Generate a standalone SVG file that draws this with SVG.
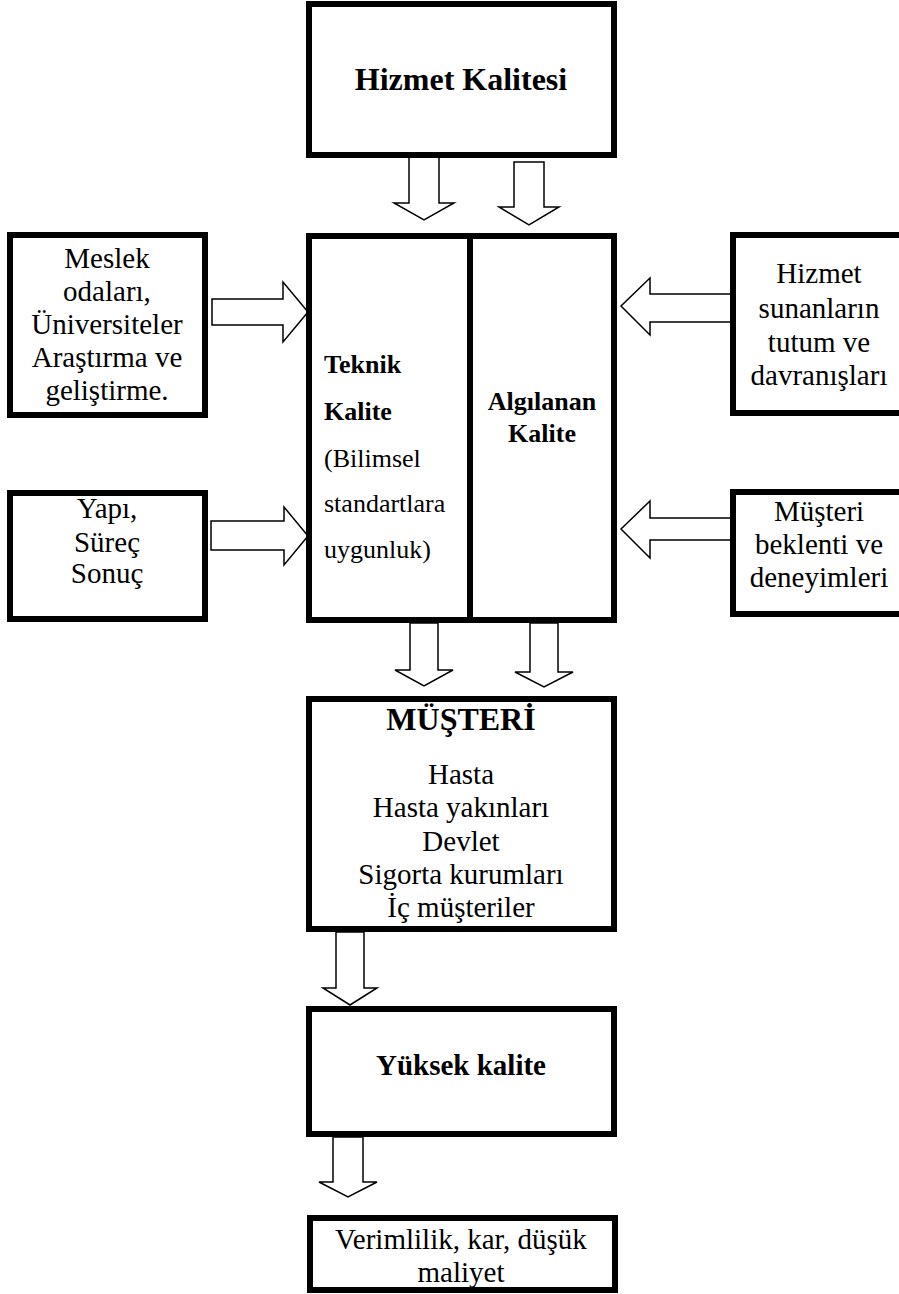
<svg xmlns="http://www.w3.org/2000/svg" width="899" height="1294" viewBox="0 0 899 1294">
<style>
.box{fill:#fff;stroke:#000;stroke-width:6}
.arr{fill:#fff;stroke:#000;stroke-width:1.5;stroke-linejoin:miter}
text{font-family:"Liberation Serif","Times New Roman",serif;fill:#000}
.r{font-size:29px;text-anchor:middle}
.b{font-weight:bold;text-anchor:middle}
.t{font-size:26px}
</style>
<rect width="899" height="1294" fill="#fff"/>
<g id="connectors">
<polygon class="arr" points="409,157 439,157 439,203 454,203 424,220 394,203 409,203"/>
<polygon class="arr" points="514,162 544,162 544,207 559,207 529,225 499,207 514,207"/>
<polygon class="arr" points="212,299 283,299 283,282 308,312 283,342 283,325 212,325"/>
<polygon class="arr" points="211,521 284,521 284,507 308,536 284,565 284,550 211,550"/>
<polygon class="arr" points="731,294 650,294 650,278 621,306 650,335 650,322 731,322"/>
<polygon class="arr" points="731,518 650,518 650,501 621,529 650,558 650,540 731,540"/>
<polygon class="arr" points="410,623 438,623 438,670 453,670 424,686 395,670 410,670"/>
<polygon class="arr" points="530,623 558,623 558,672 573,672 544,687 515,672 530,672"/>
<polygon class="arr" points="336,932 364,932 364,988 377,988 350,1005 323,988 336,988"/>
<polygon class="arr" points="333,1137 363,1137 363,1182 377,1182 348,1197 319,1182 333,1182"/>
</g>
<g id="hizmet-kalitesi">
<rect class="box" x="309" y="4" width="305" height="151"/>
<text class="b" x="461" y="90" font-size="32">Hizmet Kalitesi</text>
</g>
<g id="meslek">
<rect class="box" x="10" y="235" width="195" height="180"/>
<text class="r" x="107" y="268">Meslek</text>
<text class="r" x="107" y="301">odaları,</text>
<text class="r" x="107" y="334">Üniversiteler</text>
<text class="r" x="107" y="367">Araştırma ve</text>
<text class="r" x="107" y="400">geliştirme.</text>
</g>
<g id="yapi">
<rect class="box" x="10" y="493" width="195" height="126"/>
<text class="r" x="107" y="518">Yapı,</text>
<text class="r" x="107" y="552">Süreç</text>
<text class="r" x="107" y="583">Sonuç</text>
</g>
<g id="kalite">
<rect class="box" x="309" y="236" width="305" height="384"/>
<line x1="470" y1="236" x2="470" y2="620" stroke="#000" stroke-width="6"/>
<text class="t" x="324" y="373" font-weight="bold">Teknik</text>
<text class="t" x="324" y="420" font-weight="bold">Kalite</text>
<text class="t" x="324" y="467">(Bilimsel</text>
<text class="t" x="324" y="512">standartlara</text>
<text class="t" x="324" y="558">uygunluk)</text>
<text class="b t" x="542" y="410">Algılanan</text>
<text class="b t" x="542" y="442">Kalite</text>
</g>
<g id="hizmet-sunanlar">
<rect class="box" x="733" y="235" width="174" height="178"/>
<text class="r" x="819" y="283">Hizmet</text>
<text class="r" x="819" y="318">sunanların</text>
<text class="r" x="819" y="352">tutum ve</text>
<text class="r" x="819" y="385">davranışları</text>
</g>
<g id="musteri-beklenti">
<rect class="box" x="733" y="492" width="174" height="122"/>
<text class="r" x="819" y="521">Müşteri</text>
<text class="r" x="819" y="554">beklenti ve</text>
<text class="r" x="819" y="587">deneyimleri</text>
</g>
<g id="musteri">
<rect class="box" x="309" y="699" width="305" height="230"/>
<text class="b" x="461" y="730" font-size="32">MÜŞTERİ</text>
<text class="r" x="461" y="784">Hasta</text>
<text class="r" x="461" y="817">Hasta yakınları</text>
<text class="r" x="461" y="851">Devlet</text>
<text class="r" x="461" y="884">Sigorta kurumları</text>
<text class="r" x="461" y="917">İç müşteriler</text>
</g>
<g id="yuksek-kalite">
<rect class="box" x="309" y="1009" width="305" height="125"/>
<text class="b" x="461" y="1075" font-size="29">Yüksek kalite</text>
</g>
<g id="verimlilik">
<rect class="box" x="310" y="1218" width="305" height="72"/>
<text class="r" x="461" y="1249">Verimlilik, kar, düşük</text>
<text class="r" x="461" y="1282">maliyet</text>
</g>
</svg>
